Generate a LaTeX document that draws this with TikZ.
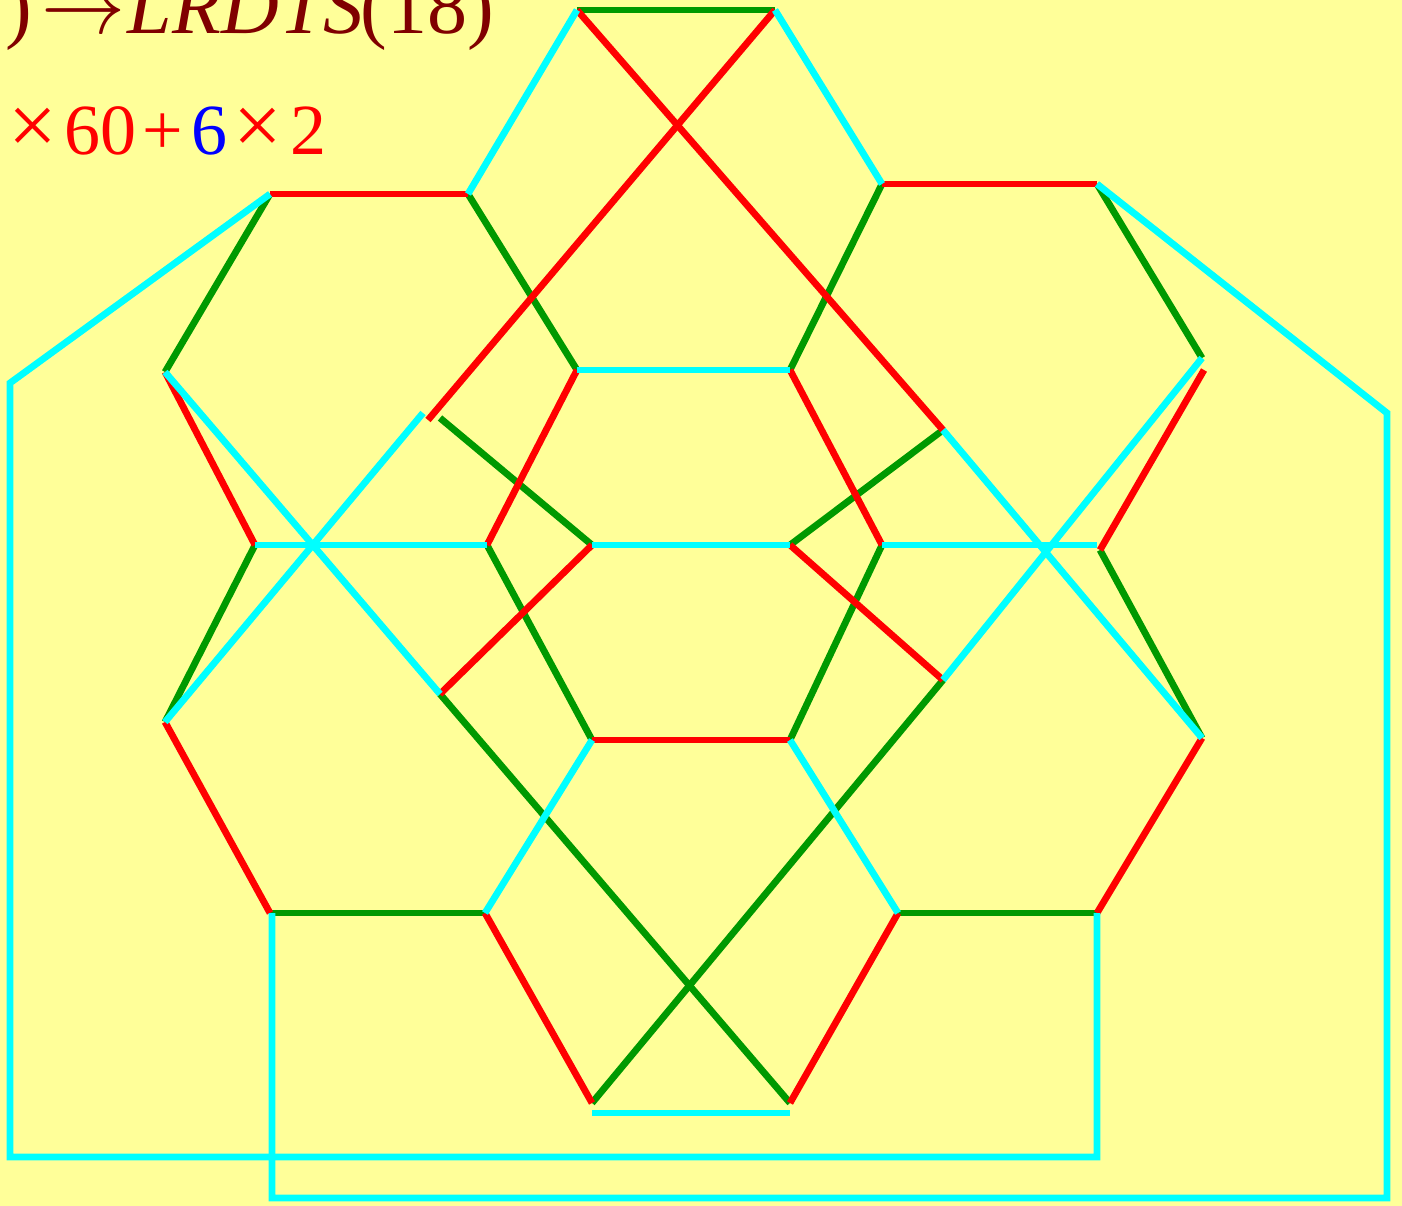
\RequirePackage{fix-cm}
\documentclass[tikz,border=0pt]{standalone}
\usepackage{fontspec}
\setmainfont{Liberation Serif}
\definecolor{bg}{HTML}{FFFF99}
\definecolor{cy}{HTML}{00FFFF}
\definecolor{gr}{HTML}{009900}
\definecolor{rd}{HTML}{FF0000}
\definecolor{dr}{HTML}{800000}
\definecolor{bl}{HTML}{0000FF}
\begin{document}
\begin{tikzpicture}[x=1pt,y=-1pt,
  seg/.style={line width=6.8pt},
  gseg/.style={seg,draw=gr},
  rseg/.style={seg,draw=rd},
  cseg/.style={seg,draw=cy}]
\fill[bg] (0,0) rectangle (1402,1206);
\useasboundingbox (0,0) rectangle (1402,1206);
\clip (0,0) rectangle (1402,1206);
% vertices
\coordinate (T1) at (577,10);
\coordinate (T2) at (775,10);
\coordinate (A) at (468,194);
\coordinate (B) at (270,194);
\coordinate (C) at (165,372);
\coordinate (D) at (255,545);
\coordinate (E) at (487,545);
\coordinate (F) at (577,370);
\coordinate (G) at (790,370);
\coordinate (H) at (882,184);
\coordinate (I) at (1097,184);
\coordinate (J) at (1202,358);
\coordinate (Jr) at (1204,370);
\coordinate (K) at (1100,550);
\coordinate (Kc) at (1097,545);
\coordinate (L) at (882,545);
\coordinate (M) at (1202,738);
\coordinate (N) at (1097,913);
\coordinate (O) at (898,913);
\coordinate (P) at (790,740);
\coordinate (Q) at (592,740);
\coordinate (R) at (485,913);
\coordinate (S) at (270,913);
\coordinate (U) at (165,722);
\coordinate (V) at (592,1103);
\coordinate (W) at (790,1103);
\coordinate (Vc) at (592,1113);
\coordinate (Wc) at (790,1113);
\coordinate (X) at (592,545);
\coordinate (Y) at (790,545);
\coordinate (Z1) at (943,430);
\coordinate (Z2) at (943,680);
\coordinate (Z3) at (440,694);
\coordinate (Z4) at (428,420);
\coordinate (Z5) at (423,413);
\coordinate (Z6) at (440,418);
\coordinate (O1) at (10,383);
\coordinate (O2) at (10,1157);
\coordinate (O3) at (1097,1157);
\coordinate (Sc) at (272,913);
\coordinate (O4) at (272,1198);
\coordinate (O5) at (1387,1198);
\coordinate (O6) at (1387,413);
% green
\draw[gseg] (T1) -- (T2);
\draw[gseg] (B) -- (C);
\draw[gseg] (A) -- (F);
\draw[gseg] (H) -- (G);
\draw[gseg] (I) -- (J);
\draw[gseg] (K) -- (M);
\draw[gseg] (O) -- (N);
\draw[gseg] (W) -- (Z3);
\draw[gseg] (V) -- (Z2);
\draw[gseg] (S) -- (R);
\draw[gseg] (Q) -- (E);
\draw[gseg] (P) -- (L);
\draw[gseg] (D) -- (U);
\draw[gseg] (Z6) -- (X);
\draw[gseg] (Y) -- (Z1);
% red
\draw[rseg] (T1) -- (Z1);
\draw[rseg] (T2) -- (Z4);
\draw[rseg] (B) -- (A);
\draw[rseg] (H) -- (I);
\draw[rseg] (Jr) -- (K);
\draw[rseg] (M) -- (N);
\draw[rseg] (O) -- (W);
\draw[rseg] (V) -- (R);
\draw[rseg] (Q) -- (P);
\draw[rseg] (U) -- (S);
\draw[rseg] (C) -- (D);
\draw[rseg] (E) -- (F);
\draw[rseg] (X) -- (Z3);
\draw[rseg] (Y) -- (Z2);
\draw[rseg] (G) -- (L);
% cyan
\draw[cseg] (T1) -- (A);
\draw[cseg] (T2) -- (H);
\draw[cseg] (B) -- (O1) -- (O2) -- (O3) -- (N);
\draw[cseg] (Sc) -- (O4) -- (O5) -- (O6) -- (I);
\draw[cseg] (F) -- (G);
\draw[cseg] (J) -- (Z2);
\draw[cseg] (Z1) -- (M);
\draw[cseg] (P) -- (O);
\draw[cseg] (Vc) -- (Wc);
\draw[cseg] (R) -- (Q);
\draw[cseg] (U) -- (Z5);
\draw[cseg] (C) -- (Z3);
\draw[cseg] (D) -- (E);
\draw[cseg] (X) -- (Y);
\draw[cseg] (L) -- (Kc);
% texts
\node[anchor=base east, text=dr, inner sep=0pt, font=\fontsize{80}{84}\selectfont] (title) at (494,34)
  {)\hspace{10pt}\scalebox{1.05}[1.15]{$\rightarrow$}\hspace{2pt}\textit{LRDTS}\hspace{-3pt}(18)};
\node[anchor=base west, inner sep=0pt, font=\fontsize{72}{80}\selectfont] (calc) at (8,155)
  {\textcolor{rd}{\scalebox{1.2}{×}\hspace{8pt}60\hspace{6pt}+\hspace{8pt}}\textcolor{bl}{6}\textcolor{rd}{\hspace{6pt}\scalebox{1.2}{×}\hspace{8pt}2}};
\end{tikzpicture}
\end{document}
